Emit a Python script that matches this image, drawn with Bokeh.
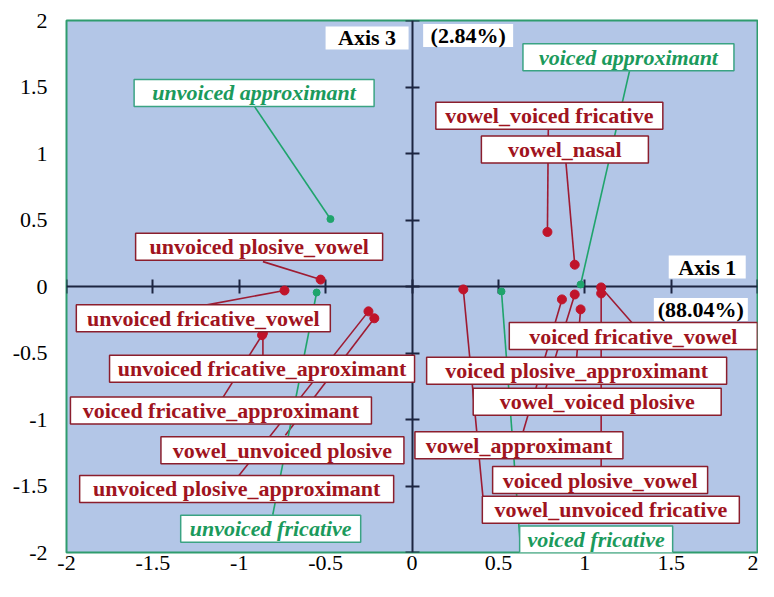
from bokeh.plotting import figure
from bokeh.models import LinearAxis, FixedTicker, CustomJSTickFormatter, ColumnDataSource
from bokeh.core.properties import value
from bokeh.embed import file_html
from bokeh.resources import INLINE

# ---------------- data ----------------
tick_values = [-2, -1.5, -1, -0.5, 0, 0.5, 1, 1.5, 2]

green_names = ["unvoiced approximant", "voiced approximant", "unvoiced fricative", "voiced fricative"]
green_x = [-0.472, 0.976, -0.552, 0.518]
green_y = [0.507, 0.015, -0.045, -0.037]

red_names = [
    "unvoiced plosive_vowel", "unvoiced fricative_vowel", "unvoiced fricative_aproximant",
    "voiced fricative_approximant", "unvoiced plosive_approximant", "vowel_unvoiced plosive",
    "vowel_voiced fricative", "vowel_nasal", "voiced fricative_vowel",
    "voiced plosive_approximant", "vowel_voiced plosive", "vowel_approximant",
    "voiced plosive_vowel", "vowel_unvoiced fricative",
]
red_x = [-0.529, -0.738, -0.863, -0.868, -0.252, -0.218, 0.784, 0.942, 1.095, 0.976, 0.942, 0.868, 1.095, 0.297]
red_y = [0.052, -0.030, -0.351, -0.366, -0.187, -0.239, 0.410, 0.164, -0.007, -0.172, -0.060, -0.097, -0.052, -0.022]

axis1_title, axis1_share = "Axis 1", "(88.04%)"
axis3_title, axis3_share = "Axis 3", "(2.84%)"

# ---------------- label layout (positions of the label boxes) ----------------
green_label_x = [-0.914, 1.253, -0.818, 1.066]
green_label_y = [1.455, 1.724, -1.821, -1.903]
green_leader_x = [-0.914, 1.259, -0.806, 0.625]
green_leader_y = [1.358, 1.619, -1.716, -1.903]
green_box_w = [240, 211, 180, 153]

red_label_x = [-0.885, -1.208, -0.868, -1.106, -1.015, -0.750, 0.795, 0.885, 1.281, 0.953, 1.072, 0.619, 1.089, 1.151]
red_label_y = [0.299, -0.239, -0.619, -0.933, -1.522, -1.231, 1.284, 1.030, -0.373, -0.634, -0.866, -1.194, -1.455, -1.679]
red_leader_x = [-0.863, -1.202, -0.863, -1.095, -1.004, -0.733, 0.789, 0.891, 1.276, 0.953, 0.772, 0.642, 1.095, 0.416]
red_leader_y = [0.187, -0.142, -0.522, -0.836, -1.425, -1.119, 1.179, 0.933, -0.276, -0.537, -0.776, -1.097, -1.358, -1.657]
red_box_w = [247, 254, 305, 301, 314, 243, 227, 167, 248, 300, 248, 208, 215, 257]

title_text = [axis3_title, axis3_share, axis1_title, axis1_share]
title_x = [-0.260, 0.325, 1.709, 1.672]
title_y = [1.869, 1.888, 0.146, -0.172]
title_box_w = [83, 90, 77, 94]

# ---------------- styles ----------------
BG = "#b3c6e7"
FRAME = "#2f9c6e"
AXIS = "#1c2541"
RED_LINE = "#9e1b32"
RED_PT = "#c0142a"
RED_TXT = "#a0141e"
RED_BOX = "#8b1e2d"
GREEN_LINE = "#1fa46c"
GREEN_TXT = "#1b9a5c"
GREEN_BOX = "#3aa383"
FONT = "Liberation Serif"

p = figure(width=758, height=581, x_range=(-2, 2), y_range=(-2, 2),
           output_backend="svg", toolbar_location=None,
           min_border_left=66, min_border_right=1, min_border_top=20, min_border_bottom=29)
p.background_fill_color = BG
p.border_fill_color = "white"
p.outline_line_color = FRAME
p.outline_line_width = 2
p.grid.visible = False

fmt = CustomJSTickFormatter(code="return tick.toString();")
for ax in (p.xaxis[0], p.yaxis[0]):
    ax.ticker = FixedTicker(ticks=tick_values)
    ax.formatter = fmt
    ax.axis_line_color = None
    ax.major_tick_line_color = None
    ax.minor_tick_line_color = None
    ax.major_tick_in = 0
    ax.major_tick_out = 0
    ax.major_label_text_font = FONT
    ax.major_label_text_font_size = "22px"
    ax.major_label_text_color = "black"
p.xaxis[0].major_label_standoff = 3
p.yaxis[0].major_label_standoff = 19

# central axes crossing at the origin
for side in ("below", "left"):
    ax = LinearAxis(fixed_location=0, ticker=FixedTicker(ticks=tick_values),
                    major_tick_in=7, major_tick_out=7,
                    axis_line_color=AXIS, axis_line_width=2,
                    major_tick_line_color=AXIS, major_tick_line_width=2,
                    minor_tick_line_color=None,
                    major_label_text_font_size="0px", level="underlay")
    p.add_layout(ax, side)

green_src = ColumnDataSource(dict(name=green_names, x=green_x, y=green_y,
                                  lx=green_label_x, ly=green_label_y,
                                  ex=green_leader_x, ey=green_leader_y, bw=green_box_w))
red_src = ColumnDataSource(dict(name=red_names, x=red_x, y=red_y,
                                lx=red_label_x, ly=red_label_y,
                                ex=red_leader_x, ey=red_leader_y, bw=red_box_w))
title_src = ColumnDataSource(dict(name=title_text, lx=title_x, ly=title_y, bw=title_box_w))

# leader lines
p.segment(x0="x", y0="y", x1="ex", y1="ey", source=red_src, line_color=RED_LINE, line_width=1.6)
p.segment(x0="x", y0="y", x1="ex", y1="ey", source=green_src, line_color=GREEN_LINE, line_width=1.6)

# points
p.scatter(x="x", y="y", source=red_src, size=9, fill_color=RED_PT, line_color=RED_PT)
p.scatter(x="x", y="y", source=green_src, size=7, fill_color=GREEN_LINE, line_color=GREEN_LINE)

# label boxes
p.rect(x="lx", y="ly", width="bw", height=27, width_units="screen", height_units="screen",
       source=red_src, fill_color="white", line_color=RED_BOX, line_width=1.5)
p.rect(x="lx", y="ly", width="bw", height=27, width_units="screen", height_units="screen",
       source=green_src, fill_color="white", line_color=GREEN_BOX, line_width=1.5)
p.rect(x="lx", y="ly", width="bw", height=23, width_units="screen", height_units="screen",
       source=title_src, fill_color="white", line_color=None)

# label texts
p.text(x="lx", y="ly", text="name", source=red_src, text_font=value(FONT), text_font_style="bold",
       text_font_size="22px", text_color=RED_TXT, text_align="center", text_baseline="middle")
p.text(x="lx", y="ly", text="name", source=green_src, text_font=value(FONT), text_font_style="bold italic",
       text_font_size="22px", text_color=GREEN_TXT, text_align="center", text_baseline="middle")
p.text(x="lx", y="ly", text="name", source=title_src, text_font=value(FONT), text_font_style="bold",
       text_font_size="22px", text_color="black", text_align="center", text_baseline="middle")

open("out.html", "w").write(file_html(p, INLINE))
